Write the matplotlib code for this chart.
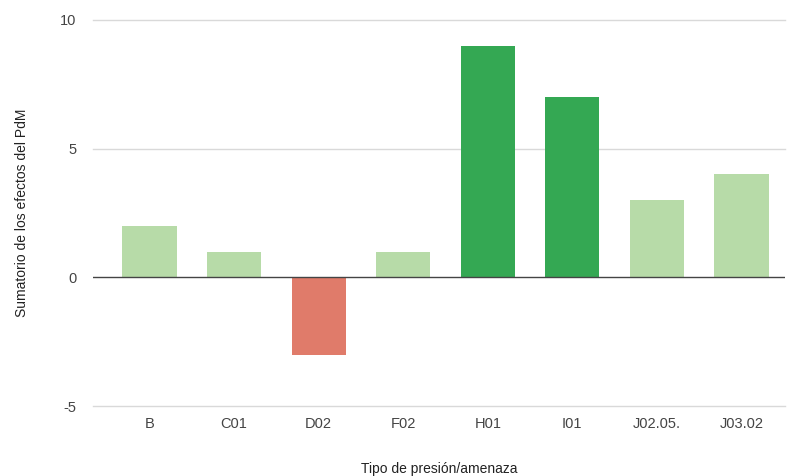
import numpy as np
import matplotlib
matplotlib.use("Agg")
import matplotlib.pyplot as plt

# Datos
categorias = ["B", "C01", "D02", "F02", "H01", "I01", "J02.05.", "J03.02"]
valores = [2, 1, -3, 1, 9, 7, 3, 4]
colores = ["#b7dba8", "#b7dba8", "#e07b6a", "#b7dba8", "#34a853", "#34a853", "#b7dba8", "#b7dba8"]
yticks = [-5, 0, 5, 10]

plt.rcParams['font.family'] = ['Liberation Sans', 'DejaVu Sans']
plt.rcParams['axes.unicode_minus'] = False

fig = plt.figure(figsize=(7.87, 4.76), dpi=100)
ax = fig.add_axes([0.118, 0.147, 0.879, 0.811])

x = np.arange(len(categorias))
ax.bar(x, valores, width=0.64, color=colores, zorder=3)

ax.set_xlim(-0.67, 7.51)
ax.set_ylim(-5, 10)
ax.set_yticks(yticks)
ax.set_xticks(x)
ax.set_xticklabels(categorias)

for y in yticks:
    if y != 0:
        ax.axhline(y, color="#d9d9d9", linewidth=1, zorder=1, clip_on=False)
ax.axhline(0, color="#444444", linewidth=1, zorder=4)

for s in ax.spines.values():
    s.set_visible(False)
ax.tick_params(length=0, labelsize=10.5, colors="#444444")
ax.tick_params(axis="y", pad=12)
ax.tick_params(axis="x", pad=8)

ax.set_ylabel("Sumatorio de los efectos del PdM", fontsize=10, color="#222222", labelpad=22)
ax.set_xlabel("Tipo de presión/amenaza", fontsize=10, color="#222222", labelpad=22)

fig.savefig("out.png", dpi=100)
